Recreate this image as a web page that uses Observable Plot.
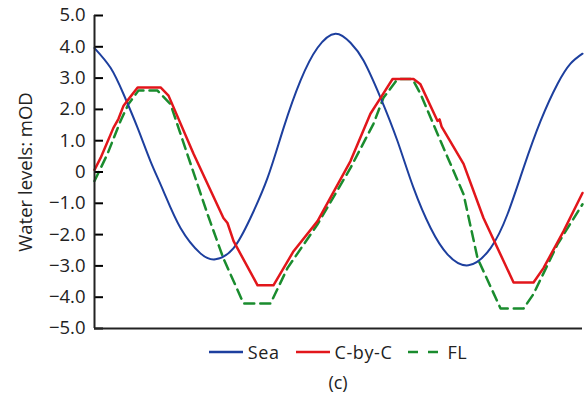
<!DOCTYPE html>
<html>
<head>
<meta charset="utf-8">
<script src="https://cdn.jsdelivr.net/npm/d3@7"></script>
<script src="https://cdn.jsdelivr.net/npm/@observablehq/plot@0.6"></script>
<style>
  html, body { margin: 0; padding: 0; background: #fff; }
  #wrap { width: 585px; height: 403px; position: relative; font-family: "Open Sans", sans-serif; color: #222; }
  #legend { display: flex; justify-content: center; align-items: center; gap: 16px; margin-left: 94px; margin-right: 3px; height: 24px; font-size: 18px; letter-spacing: 0.6px; }
  .item { display: flex; align-items: center; gap: 5px; }
  #caption { text-align: center; margin-left: 94px; margin-right: 3px; font-size: 18px; height: 30px; line-height: 30px; margin-top: 3px; }
</style>
</head>
<body>
<div id="wrap">
  <div id="chart"></div>
  <div id="legend"></div>
  <div id="caption">(c)</div>
</div>
<script>
// Time (hours, arbitrary origin) and water level (mOD)
const seaT = [0.00, 0.79, 1.42, 2.12, 2.75, 3.39, 4.23, 5.21, 5.95, 6.84, 7.67, 8.51, 9.30, 10.13, 10.97, 11.85, 12.59, 13.23, 14.07, 14.90, 15.69, 16.53, 17.36, 18.39, 19.48, 20.31, 21.10, 21.94, 22.77, 23.41, 24.00];
const seaV = [3.96, 3.33, 2.50, 1.41, 0.35, -0.61, -1.79, -2.60, -2.79, -2.43, -1.47, -0.19, 1.41, 2.92, 3.97, 4.42, 4.13, 3.56, 2.37, 0.99, -0.51, -1.79, -2.63, -2.98, -2.43, -1.35, 0.13, 1.63, 2.81, 3.46, 3.78];

const cbcT = [0.00, 0.30, 0.93, 1.18, 1.43, 1.62, 2.12, 3.25, 3.64, 4.87, 6.34, 6.54, 6.84, 8.02, 8.80, 9.79, 10.97, 12.59, 13.57, 14.07, 14.66, 15.69, 16.03, 16.87, 16.97, 17.07, 18.15, 19.13, 20.61, 21.59, 22.08, 23.07, 24.00];
const cbcV = [0.07, 0.45, 1.41, 1.70, 2.12, 2.28, 2.70, 2.70, 2.44, 0.58, -1.47, -1.63, -2.21, -3.62, -3.62, -2.53, -1.57, 0.35, 1.86, 2.37, 2.97, 2.97, 2.80, 1.63, 1.68, 1.45, 0.26, -1.47, -3.53, -3.53, -3.07, -1.89, -0.67];

const flT = [0.00, 0.64, 1.28, 1.67, 2.16, 3.10, 3.74, 4.13, 5.56, 6.34, 7.33, 8.66, 9.49, 10.97, 12.59, 13.72, 14.21, 14.90, 15.64, 16.03, 17.02, 18.15, 18.84, 19.97, 21.10, 21.59, 22.77, 24.00];
const flV = [-0.29, 0.58, 1.63, 2.17, 2.60, 2.60, 2.17, 1.41, -1.35, -2.76, -4.20, -4.20, -3.07, -1.67, 0.13, 1.54, 2.37, 2.97, 2.97, 2.50, 0.99, -0.71, -2.76, -4.36, -4.36, -3.90, -2.31, -1.03];

const yTicks = [-5, -4, -3, -2, -1, 0, 1, 2, 3, 4, 5];
const yTickLabels = ["−5.0", "−4.0", "−3.0", "−2.0", "−1.0", "0", "1.0", "2.0", "3.0", "4.0", "5.0"];

const seriesNames = ["Sea", "C-by-C", "FL"];
const seriesColors = ["#1d3f9e", "#e2161b", "#1a8c2e"];
const seriesDash = [null, null, "10,6"];
const seriesWidth = [2, 2.5, 2.5];

const zip = (ts, vs, name) => ts.map((t, i) => ({t, v: vs[i], name}));
const sea = zip(seaT, seaV, "Sea");
const cbc = zip(cbcT, cbcV, "C-by-C");
const fl = zip(flT, flV, "FL");

const W = 585, ML = 94, MR = 3, TICK = 9;
const xDomain = [0, 24];
// tick length expressed in x units so the inward ticks are TICK px long
const tickLenX = TICK * (xDomain[1] - xDomain[0]) / (W - ML - MR);

const chart = Plot.plot({
  width: W,
  height: 340,
  marginTop: 15,
  marginBottom: 12,
  marginLeft: ML,
  marginRight: MR,
  style: {fontFamily: "Open Sans, sans-serif", fontSize: "18px", color: "#222", background: "#fff"},
  x: {domain: xDomain, axis: null},
  y: {domain: [-5, 5]},
  marks: [
    Plot.axisY({
      ticks: yTicks,
      tickFormat: d => yTickLabels[yTicks.indexOf(d)],
      tickSize: 0,
      tickPadding: 9,
      label: "Water levels: mOD",
      labelArrow: "none",
      labelAnchor: "center",
      labelOffset: 76,
      fontSize: 18.5
    }),
    Plot.line(fl, {x: "t", y: "v", stroke: seriesColors[2], strokeWidth: seriesWidth[2], strokeDasharray: seriesDash[2]}),
    Plot.line(sea, {x: "t", y: "v", stroke: seriesColors[0], strokeWidth: seriesWidth[0], curve: "natural"}),
    Plot.line(cbc, {x: "t", y: "v", stroke: seriesColors[1], strokeWidth: seriesWidth[1]}),
    Plot.ruleY(yTicks, {y: d => d, x1: xDomain[0], x2: xDomain[0] + tickLenX, stroke: "#000", strokeWidth: 2}),
    Plot.ruleX([xDomain[0]], {stroke: "#222", strokeWidth: 2}),
    Plot.ruleY([-5], {stroke: "#222", strokeWidth: 2})
  ]
});
document.getElementById("chart").appendChild(chart);

const legend = document.getElementById("legend");
seriesNames.forEach((name, i) => {
  const item = document.createElement("div");
  item.className = "item";
  const dash = seriesDash[i] ? `stroke-dasharray="10,10"` : "";
  item.innerHTML = `<svg width="34" height="6"><line x1="0" x2="34" y1="3" y2="3" stroke="${seriesColors[i]}" stroke-width="2.5" ${dash}/></svg><span>${name}</span>`;
  legend.appendChild(item);
});
</script>
</body>
</html>
